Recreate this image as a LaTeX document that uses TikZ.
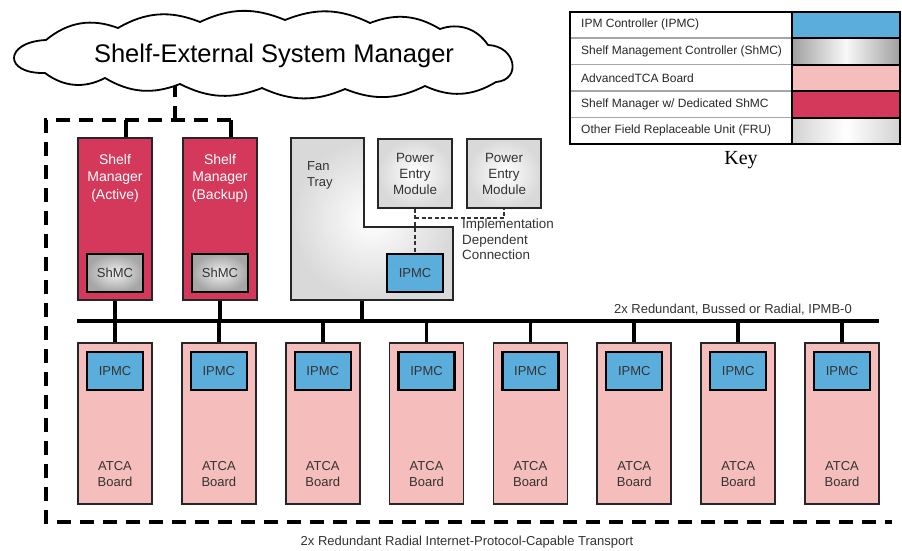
\documentclass[tikz,border=0pt]{standalone}
\usepackage{fontspec}
\setmainfont{Liberation Sans}
\newfontfamily\keyserif{Liberation Serif}
\usetikzlibrary{backgrounds,calc}
\definecolor{ipmcblue}{HTML}{5BAEDB}
\definecolor{smred}{HTML}{D4395B}
\definecolor{atcapink}{HTML}{F5BEBC}
\definecolor{txtgray}{HTML}{333333}
\begin{document}
\begin{tikzpicture}[x=1pt,y=-1pt,
  ipmc/.style={draw=black, line width=2.2pt, fill=ipmcblue, minimum width=56pt, minimum height=38pt, inner sep=0pt, font=\fontsize{13}{15}\selectfont, text=txtgray},
  shmc/.style={draw=black, line width=2.2pt, inner color=gray!12, outer color=gray!70, minimum width=56pt, minimum height=38pt, inner sep=0pt, font=\fontsize{13}{15}\selectfont, text=txtgray},
  mgr/.style={draw=black!85, line width=1.8pt, fill=smred, minimum width=74pt, minimum height=162pt, inner sep=0pt},
  mgrtxt/.style={text=white, align=center, font=\fontsize{14}{17.5}\selectfont, inner sep=0pt},
  board/.style={draw=black!85, line width=1.8pt, fill=atcapink, minimum width=74pt, minimum height=161pt, inner sep=0pt},
  boardtxt/.style={text=txtgray, align=center, font=\fontsize{13}{16}\selectfont, inner sep=0pt},
  pem/.style={draw=black!85, line width=1.8pt, inner color=white, outer color=gray!30, minimum width=74pt, minimum height=69pt, inner sep=0pt, align=center, font=\fontsize{13.4}{16}\selectfont, text=txtgray},
  lbl/.style={font=\fontsize{13}{15.5}\selectfont, text=txtgray, inner sep=0pt},
  conn/.style={line width=3.8pt},
  tick/.style={line width=3pt},
  bus/.style={line width=4.8pt},
  outline/.style={line width=3.4pt, dash pattern=on 14pt off 9pt},
  impl/.style={line width=1.8pt, dash pattern=on 4pt off 2.5pt, black!80},
  keytxt/.style={font=\fontsize{12}{14}\selectfont, text=black!85, anchor=west, inner sep=0pt},
  swatch/.style={draw=black, line width=2pt, minimum width=108pt, minimum height=26.5pt, inner sep=0pt},
  cloudline/.style={draw=black, fill=white, line width=1.8pt, line join=round}
]
\useasboundingbox (0,0) rectangle (902,550);

% ---- cloud ----
\path[cloudline]
  (46,40) to[bend left=30] (118,28) to[bend left=26] (200,22) to[bend left=24] (285,20)
  to[bend left=24] (370,23) to[bend left=26] (440,29) to[bend left=38] (488,45)
  .. controls (516,46) and (522,80) .. (496,82)
  to[bend left=28] (425,86) to[bend left=24] (345,89) to[bend left=24] (262,88)
  to[bend left=24] (180,84) to[bend left=26] (105,78) to[bend left=32] (45,73)
  .. controls (3,74) and (4,42) .. cycle;
\node[font=\fontsize{25.5}{30}\selectfont, inner sep=0pt] (title) at (274,56) {Shelf-External System Manager};
\coordinate (cloudbot) at (175,80);

% ---- shelf managers ----
\node[mgr] (sm1) at (115,219) {};
\node[mgr] (sm2) at (220,219) {};
\node[mgrtxt] (sm1t) at (115,178) {Shelf\\Manager\\(Active)};
\node[mgrtxt] (sm2t) at (220,178) {Shelf\\Manager\\(Backup)};
\node[shmc] (sh1) at (115,273) {ShMC};
\node[shmc] (sh2) at (220,273) {ShMC};

% ---- fan tray ----
\path[draw=black!85, line width=1.8pt, inner color=white, outer color=gray!30]
  (291,138) -- (364,138) -- (364,227) -- (453,227) -- (453,300) -- (291,300) -- cycle;
\node[lbl, align=left, anchor=north west, font=\fontsize{13}{16}\selectfont] (fant) at (307,161) {Fan\\Tray};
\coordinate (fanbot) at (362,300);

% ---- power entry modules ----
\node[pem] (pem1) at (415,173.5) {Power\\Entry\\Module};
\node[pem] (pem2) at (504,173.5) {Power\\Entry\\Module};
\node[lbl, align=left, anchor=north west, font=\fontsize{13.4}{15.5}\selectfont] (implt) at (462,219) {Implementation\\Dependent\\Connection};
\draw[impl] (pem1.south) -- (415,254);
\draw[impl] ($(pem1.south)+(0,9)$) -- ($(pem2.south)+(0,9)$) -- (pem2.south);
\node[ipmc] (fip) at (415,273) {IPMC};

% ---- bus ----
\coordinate (busL) at (77,321);
\coordinate (busR) at (879,321);
\node[lbl, anchor=base east] (bust) at (852,313) {2x Redundant, Bussed or Radial, IPMB-0};

% ---- boards ----
\foreach \i in {0,...,7}{
  \pgfmathsetmacro{\cx}{115+103.86*\i}
  \node[board] (b\i) at (\cx,423.5) {};
  \node[ipmc] (ip\i) at (\cx,371) {IPMC};
  \node[boardtxt] (bt\i) at (\cx,474) {ATCA\\Board};
}

% ---- outer dashed frame ----
\coordinate (fTL) at (46,120);
\coordinate (fTR) at (231,120);
\coordinate (fBL) at (46,522);
\coordinate (fBR) at (892,522);
\coordinate (fC) at (175,120);
\node[lbl, anchor=base] (trt) at (467,545) {2x Redundant Radial Internet-Protocol-Capable Transport};

% ---- key ----
\draw[line width=2pt] (570,11.5) rectangle (792,144);
\foreach \y in {38,64.5,91,117.5}{ \draw[gray!70, line width=1.2pt] (571,\y) -- (791,\y); }
\node[keytxt] (k1) at (581,24.75) {IPM Controller (IPMC)};
\node[keytxt] (k2) at (581,51.25) {Shelf Management Controller (ShMC)};
\node[keytxt] (k3) at (581,77.75) {AdvancedTCA Board};
\node[keytxt] (k4) at (581,104.25) {Shelf Manager w/ Dedicated ShMC};
\node[keytxt] (k5) at (581,130.75) {Other Field Replaceable Unit (FRU)};
\node[swatch, fill=ipmcblue] (s1) at (846,24.75) {};
\node[swatch, left color=gray!75, right color=gray!75, middle color=gray!5] (s2) at (846,51.25) {};
\node[swatch, fill=atcapink] (s3) at (846,77.75) {};
\node[swatch, fill=smred] (s4) at (846,104.25) {};
\node[swatch, left color=gray!35, right color=gray!35, middle color=white] (s5) at (846,130.75) {};
\node[font=\keyserif\fontsize{20}{22}\selectfont, inner sep=0pt] (keyt) at (741,160) {Key};

% ---- connectors (behind nodes) ----
\begin{scope}[on background layer]
  \draw[outline] (fTR) -- (fTL) -- (fBL) -- (fBR);
  \draw[outline] (fC) -- (cloudbot);
  \draw[conn] (fTL -| 126,0) -- (sm1.north -| 126,0);
  \draw[conn] (fTR) -- (sm2.north -| fTR);
  \draw[bus] (busL) -- (busR);
  \draw[conn] (sm1.south) -- (sm1.south |- busL);
  \draw[conn] (sm2.south) -- (sm2.south |- busL);
  \draw[conn] (fanbot) -- (fanbot |- busL);
  \foreach \i in {0,...,7}{
    \draw[conn] (b\i.north) -- (b\i.north |- busL);
  }
  \foreach \i/\o in {0/11,1/11,2/11,3/0,4/0,5/0,6/0,7/0}{
    \draw[tick] ($(b\i.south)+(\o,0)$) -- ($(b\i.south)+(\o,0)$ |- fBL);
  }
\end{scope}
\end{tikzpicture}
\end{document}
